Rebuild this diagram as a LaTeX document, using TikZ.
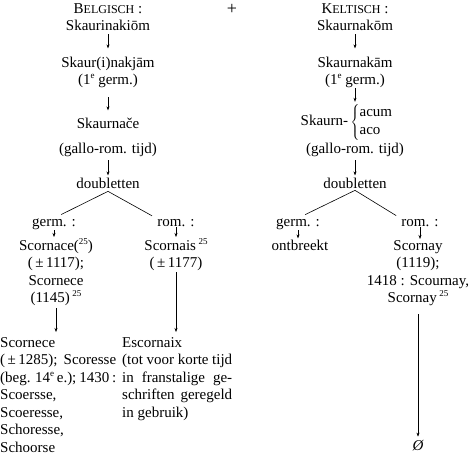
\documentclass[tikz,border=0pt]{standalone}
\usepackage{fontspec}
\setmainfont{Liberation Serif}
\usetikzlibrary{arrows.meta}
\newcommand\kap[2]{#1{\fontsize{12}{12}\selectfont #2}}
\newcommand\sups[1]{\raisebox{0.4em}{\fontsize{9}{9}\selectfont #1}}
\begin{document}
\begin{tikzpicture}[x=1pt,y=-1pt,
  lbl/.style={inner sep=0pt, font=\fontsize{15}{17.5}\selectfont},
  blk/.style={lbl, align=center},
  par/.style={lbl, align=left, anchor=north west},
  arr/.style={-{Stealth[length=4pt,width=3pt]}, line width=0.5pt},
  ln/.style={line width=0.6pt}]
\useasboundingbox (0,0) rectangle (470,455);
% left column
\node[lbl,anchor=base] (b0) at (108,13) {\kap{B}{ELGISCH} :};
\node[lbl,anchor=base,font=\fontsize{18}{18}\selectfont] (plus) at (232,14) {+};
\node[lbl,anchor=base] (b1) at (108,30) {Skaurinakiōm};
\node[lbl,anchor=base] (b2) at (108,67) {Skaur(i)nakjām};
\node[lbl,anchor=base] (b3) at (108,84) {(1\sups{e} germ.)};
\node[lbl,anchor=base] (b4) at (108,128) {Skaurnače};
\node[lbl,anchor=base] (b5) at (108,153) {(gallo-rom. tijd)};
\node[lbl,anchor=base] (b6) at (108,188) {doubletten};
\node[lbl,anchor=base] (b7) at (54,226) {germ. :};
\node[lbl,anchor=base] (b8) at (176,226) {rom. :};
\node[blk,anchor=north] (b9) at (56,238) {Scornace(\sups{25})\\(\,±\,1117);\\Scornece\\(1145)\,\sups{25}};
\node[blk,anchor=north] (b10) at (176,238) {Scornais\,\sups{25}\\(\,±\,1177)};
\node[par] (b11) at (0,337) {Scornece\\\makebox[116pt][s]{(\,±\,1285);\ Scoresse}\\\makebox[116pt][s]{(beg. 14\sups{e} e.); 1430 :}\\Scoersse,\\Scoeresse,\\Schoresse,\\Schoorse};
\node[par] (b12) at (122,337) {Escornaix\\\makebox[110pt][s]{(tot voor korte tijd}\\\makebox[110pt][s]{in franstalige ge-}\\\makebox[110pt][s]{schriften geregeld}\\in gebruik)};
% right column
\node[lbl,anchor=base] (k0) at (355,13) {\kap{K}{ELTISCH} :};
\node[lbl,anchor=base] (k1) at (355,30) {Skaurnakōm};
\node[lbl,anchor=base] (k2) at (355,67) {Skaurnakām};
\node[lbl,anchor=base] (k3) at (355,84) {(1\sups{e} germ.)};
\node[lbl] (k4) at (347,122) {Skaurn-\,$\left\{\begin{tabular}{@{}l@{}}acum\\aco\end{tabular}\right.$};
\node[lbl,anchor=base] (k5) at (355,153) {(gallo-rom. tijd)};
\node[lbl,anchor=base] (k6) at (355,188) {doubletten};
\node[lbl,anchor=base] (k7) at (298,226) {germ. :};
\node[lbl,anchor=base] (k8) at (420,226) {rom. :};
\node[lbl,anchor=base] (k9) at (300,250) {ontbreekt};
\node[blk,anchor=north] (k10) at (418,240) {Scornay\\(1119);\\1418 : Scournay,\\Scornay\,\sups{25}};
\node[lbl,anchor=base] (k11) at (418,450) {\itshape Ø};
\coordinate (b6a) at ([yshift=-3pt]b6.south);
\coordinate (k6a) at ([yshift=-2pt]k6.south);
% connectors left
\draw[arr,shorten <=4pt,shorten >=8pt] (b1.south) -- (b2.north);
\draw[arr,shorten <=10pt,shorten >=7pt] (b3.south) -- (b4.north);
\draw[arr,shorten <=4pt,shorten >=2pt] (b5.south) -- (b6.north);
\draw[ln,shorten >=8pt] (b6a) -- (b7.north);
\draw[ln,shorten >=6pt] (b6a) -- (b8.north west);
\draw[arr,shorten <=1pt,shorten >=1pt] (b7.south) -- (b7.south |- b9.north);
\draw[arr,shorten <=1pt,shorten >=1pt] (b8.south) -- (b8.south |- b10.north);
\draw[arr,shorten <=2pt,shorten >=5pt] (b9.south) -- (b9.south |- b11.north);
\draw[arr,shorten <=1pt,shorten >=5pt] (b10.south) -- (b10.south |- b12.north);
% connectors right
\draw[arr,shorten <=4pt,shorten >=8pt] (k1.south) -- (k2.north);
\draw[arr,shorten <=1pt,shorten >=2pt] (k3.south) -- (k3.south |- k4.north);
\draw[arr,shorten <=4pt,shorten >=2pt] (k5.south) -- (k6.north);
\draw[ln,shorten >=8pt] (k6a) -- (k7.north);
\draw[ln,shorten >=6pt] (k6a) -- (k8.north west);
\draw[arr,shorten <=1pt,shorten >=1pt] (k7.south) -- (k7.south |- k9.north);
\draw[arr,shorten <=1pt,shorten >=1pt] (k8.south) -- (k8.south |- k10.north);
\draw[arr,shorten <=8pt,shorten >=3pt] (k10.south) -- (k10.south |- k11.north);
\end{tikzpicture}
\end{document}
